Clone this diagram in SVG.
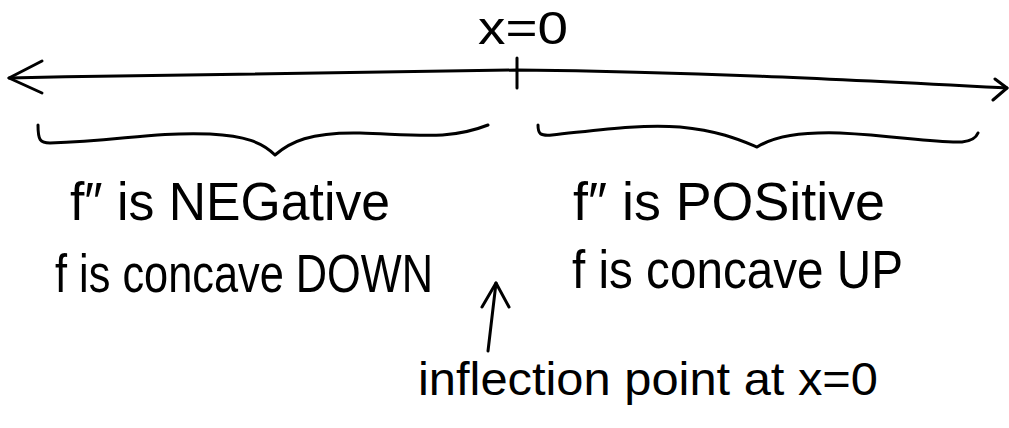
<svg xmlns="http://www.w3.org/2000/svg" width="1009" height="428" viewBox="0 0 1009 428">
<style>
.ink{fill:none;stroke:#000;stroke-width:3;stroke-linecap:round;stroke-linejoin:round}
.t{font-family:"Liberation Sans","DejaVu Sans",sans-serif;fill:#000}
.big{font-size:54px}
.mid{font-size:46px}
</style>
<rect width="1009" height="428" fill="#fff"/>
<g id="connectors">
<path class="ink" d="M9,78 C200,74 400,71 517,70 C700,72 850,80 1007,88"/>
<path class="ink" d="M42,61 L9,78 L42,93"/>
<path class="ink" d="M995,79 L1007,88 L993,100"/>
<path class="ink" d="M517,58 L517,88"/>
<path class="ink" d="M488,351 L496,283"/>
<path class="ink" d="M482,307 L496,283 L509,307"/>
</g>
<g id="brace-left">
<path class="ink" d="M38,125 C38,140 40,143 50,143 C120,141 150,132 210,134 C245,136 262,142 275,155 C290,142 310,132 360,133 C420,135 450,140 488,125"/>
</g>
<g id="brace-right">
<path class="ink" d="M538,125 C538,134 540,136 552,135 C600,130 640,124 680,127 C720,131 740,140 757,147 C775,136 800,132 840,133 C900,136 930,143 962,142 C972,141 976,138 978,133"/>
</g>
<g id="label-x0">
<text class="t mid" x="478" y="44" textLength="90" lengthAdjust="spacingAndGlyphs">x=0</text>
</g>
<g id="left-text">
<text class="t big" x="70" y="220" textLength="320" lengthAdjust="spacingAndGlyphs">f″ is NEGative</text>
<text class="t big" x="55" y="292" textLength="378" lengthAdjust="spacingAndGlyphs">f is concave DOWN</text>
</g>
<g id="right-text">
<text class="t big" x="573" y="220" textLength="312" lengthAdjust="spacingAndGlyphs">f″ is POSitive</text>
<text class="t big" x="572" y="288" textLength="331" lengthAdjust="spacingAndGlyphs">f is concave UP</text>
</g>
<g id="inflection-label">
<text class="t mid" x="418" y="395" textLength="460" lengthAdjust="spacingAndGlyphs">inflection point at x=0</text>
</g>
</svg>
